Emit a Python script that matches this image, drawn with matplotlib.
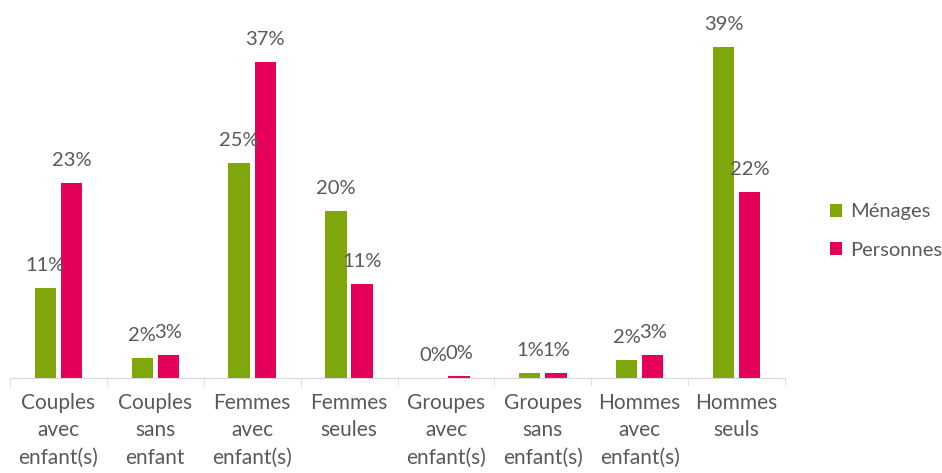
import numpy as np
import matplotlib.pyplot as plt

categories = [
    "Couples\navec\nenfant(s)", "Couples\nsans\nenfant", "Femmes\navec\nenfant(s)",
    "Femmes\nseules", "Groupes\navec\nenfant(s)", "Groupes\nsans\nenfant(s)",
    "Hommes\navec\nenfant(s)", "Hommes\nseuls",
]
menages = [10.6, 2.4, 25.3, 19.7, 0.0, 0.6, 2.1, 39.0]
personnes = [23.0, 2.7, 37.2, 11.1, 0.2, 0.6, 2.7, 21.9]

GREEN = "#7FA60A"
PINK = "#E5005A"
TXT = "#595959"

plt.rcParams["font.family"] = ["Lato", "DejaVu Sans"]

fig = plt.figure(figsize=(9.42, 4.73), dpi=100)
ax = fig.add_axes([10 / 942, 1 - 378 / 473, 775 / 942, 378 / 473])

x = np.arange(len(categories))
w = 0.22
off = 0.135
b1 = ax.bar(x - off, menages, w, color=GREEN, label="Ménages")
b2 = ax.bar(x + off, personnes, w, color=PINK, label="Personnes")

for bars, vals in [(b1, menages), (b2, personnes)]:
    for r, v in zip(bars, vals):
        ax.annotate(f"{v:.0f}%", (r.get_x() + r.get_width() / 2, v),
                    xytext=(0, 10), textcoords="offset points",
                    ha="center", va="bottom", fontsize=14.5, color=TXT)

ax.set_xlim(-0.5, len(categories) - 0.5)
ax.set_ylim(0, 44.5)
ax.set_yticks([])
for s in ["top", "right", "left"]:
    ax.spines[s].set_visible(False)
ax.spines["bottom"].set_color("#D9D9D9")
ax.set_xticks(x)
ax.set_xticklabels(categories, fontsize=15, color=TXT, linespacing=1.45)
ax.tick_params(axis="x", which="major", length=0, pad=11)
ax.set_xticks(np.arange(-0.5, len(categories)), minor=True)
ax.tick_params(axis="x", which="minor", length=6, color="#D9D9D9")

fig.legend(handles=[b1, b2], loc="center left", bbox_to_anchor=(812 / 942, 1 - 231 / 473),
           frameon=False, fontsize=14.5, labelcolor=TXT, handlelength=0.6,
           handleheight=0.6, handletextpad=0.4, labelspacing=1.05)

fig.savefig("out.png", dpi=100)
